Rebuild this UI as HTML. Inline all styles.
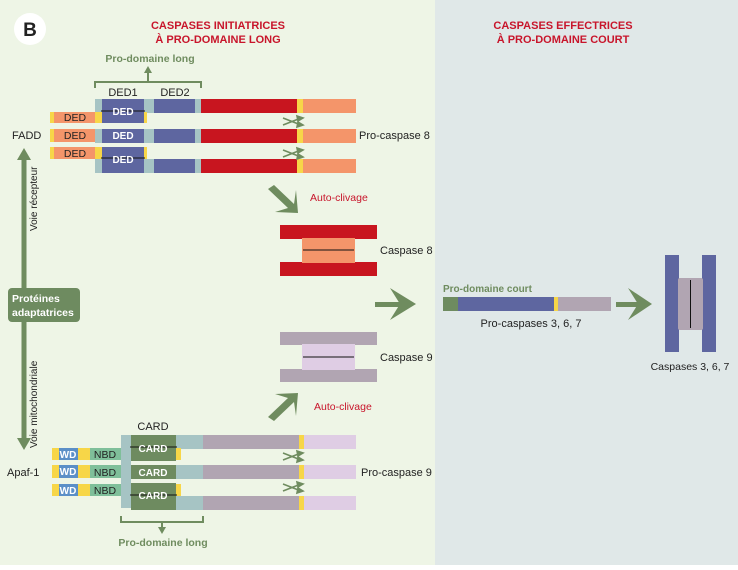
<!DOCTYPE html>
<html><head><meta charset="utf-8"><style>
html,body{margin:0;padding:0;}
body{width:738px;height:565px;overflow:hidden;font-family:"Liberation Sans",sans-serif;}
text{font-family:"Liberation Sans",sans-serif;}
</style></head><body>
<svg width="738" height="565" viewBox="0 0 738 565" xmlns="http://www.w3.org/2000/svg">
<defs>
<g id="scis" stroke="#6f8c5f" stroke-width="1.6" fill="#6f8c5f">
<line x1="0" y1="0" x2="18" y2="7"/><line x1="0" y1="7" x2="18" y2="0"/>
<polygon points="14,-2 20,0 15,3"/><polygon points="14,9 20,7 15,4"/>
</g>
</defs>
<rect x="0" y="0" width="435" height="565" fill="#eef5e6"/>
<rect x="435" y="0" width="303" height="565" fill="#e0e8e8"/>
<circle cx="30" cy="29" r="16" fill="#fff"/>
<text x="30" y="36" font-size="19" font-weight="bold" text-anchor="middle" fill="#222">B</text>
<g fill="#c8152b" font-size="11" font-weight="bold" text-anchor="middle">
<text x="218" y="29">CASPASES INITIATRICES</text><text x="218" y="43">À PRO-DOMAINE LONG</text>
<text x="563" y="29">CASPASES EFFECTRICES</text><text x="563" y="43">À PRO-DOMAINE COURT</text>
</g>
<text x="150" y="62" font-size="10.5" font-weight="bold" fill="#6f8c5f" text-anchor="middle">Pro-domaine long</text>
<path d="M95,88 V82 H201 V88 M148,82 V72" stroke="#6f8c5f" stroke-width="2" fill="none"/>
<polygon points="144,73 148,66 152,73" fill="#6f8c5f"/>
<g font-size="11" fill="#222" text-anchor="middle"><text x="123" y="96">DED1</text><text x="175" y="96">DED2</text></g>
<g id="full8">
<rect x="95" y="99" width="7" height="14" fill="#a6c4c4"/><rect x="102" y="99" width="42" height="14" fill="#5e66a0"/>
<rect x="144" y="99" width="10" height="14" fill="#a6c4c4"/><rect x="154" y="99" width="41" height="14" fill="#5e66a0"/>
<rect x="195" y="99" width="6" height="14" fill="#a6c4c4"/><rect x="201" y="99" width="96" height="14" fill="#c8151f"/>
<rect x="297" y="99" width="6" height="14" fill="#f7d648"/><rect x="303" y="99" width="53" height="14" fill="#f4956a"/>
</g>
<rect x="50" y="112" width="4" height="11" fill="#f7d648"/><rect x="54" y="112" width="41" height="11" fill="#f4956a"/><rect x="95" y="112" width="7" height="11" fill="#f7d648"/>
<rect x="102" y="112" width="42" height="11" fill="#5e66a0"/><rect x="144" y="112" width="3" height="11" fill="#f7d648"/>
<line x1="101" y1="111" x2="145" y2="111" stroke="#111" stroke-width="1"/>
<use href="#full8" y="30"/>
<rect x="50" y="129" width="4" height="13" fill="#f7d648"/><rect x="54" y="129" width="41" height="13" fill="#f4956a"/>
<use href="#full8" y="60"/>
<rect x="50" y="147" width="4" height="12" fill="#f7d648"/><rect x="54" y="147" width="41" height="12" fill="#f4956a"/><rect x="95" y="147" width="7" height="12" fill="#f7d648"/>
<rect x="102" y="147" width="42" height="12" fill="#5e66a0"/><rect x="144" y="147" width="3" height="12" fill="#f7d648"/>
<line x1="101" y1="158" x2="145" y2="158" stroke="#111" stroke-width="1"/>
<g font-size="10.5" fill="#222" text-anchor="middle"><text x="75" y="121">DED</text><text x="75" y="139">DED</text><text x="75" y="157">DED</text></g>
<g font-size="10" font-weight="bold" fill="#fff" text-anchor="middle"><text x="123" y="115">DED</text><text x="123" y="139">DED</text><text x="123" y="163">DED</text></g>
<use href="#scis" x="283" y="118"/><use href="#scis" x="283" y="150"/>
<text x="12" y="139" font-size="11" fill="#222">FADD</text>
<text x="359" y="139" font-size="11" fill="#222">Pro-caspase 8</text>
<rect x="121" y="435" width="10" height="73" fill="#a6c4c4"/>
<g id="full9">
<rect x="131" y="435" width="45" height="14" fill="#6e8b60"/><rect x="176" y="435" width="27" height="14" fill="#a6c4c4"/>
<rect x="203" y="435" width="96" height="14" fill="#b1a5b2"/><rect x="299" y="435" width="5" height="14" fill="#f7d648"/>
<rect x="304" y="435" width="52" height="14" fill="#dfcde4"/>
</g>
<rect x="131" y="448" width="45" height="13" fill="#6e8b60"/><rect x="176" y="448" width="5" height="12" fill="#f7d648"/>
<line x1="130" y1="447" x2="177" y2="447" stroke="#111" stroke-width="1"/>
<use href="#full9" y="30"/>
<use href="#full9" y="61"/>
<rect x="131" y="483" width="45" height="14" fill="#6e8b60"/><rect x="176" y="484" width="5" height="12" fill="#f7d648"/>
<line x1="130" y1="495" x2="177" y2="495" stroke="#111" stroke-width="1"/>
<g id="apaf">
<rect x="52" y="448" width="7" height="12" fill="#f7d648"/><rect x="59" y="448" width="19" height="12" fill="#5b8fc7"/>
<rect x="78" y="448" width="12" height="12" fill="#f7d648"/><rect x="90" y="448" width="31" height="12" fill="#7fbf9a"/>
</g>
<use href="#apaf" y="17"/><use href="#apaf" y="36"/>
<rect x="52" y="465" width="7" height="13" fill="#f7d648"/><rect x="59" y="465" width="19" height="13" fill="#5b8fc7"/><rect x="78" y="465" width="12" height="13" fill="#f7d648"/><rect x="90" y="465" width="31" height="13" fill="#7fbf9a"/>
<g font-size="10" font-weight="bold" fill="#fff" text-anchor="middle"><text x="68" y="458">WD</text><text x="68" y="475">WD</text><text x="68" y="494">WD</text>
<text x="153" y="452">CARD</text><text x="153" y="476">CARD</text><text x="153" y="499">CARD</text></g>
<g font-size="10.5" fill="#222" text-anchor="middle"><text x="105" y="458">NBD</text><text x="105" y="476">NBD</text><text x="105" y="494">NBD</text></g>
<text x="153" y="430" font-size="11" fill="#222" text-anchor="middle">CARD</text>
<use href="#scis" x="283" y="453"/><use href="#scis" x="283" y="484"/>
<text x="7" y="476" font-size="11" fill="#222">Apaf-1</text>
<text x="361" y="476" font-size="11" fill="#222">Pro-caspase 9</text>
<path d="M121,516 V522 H203 V516 M162,522 V528" stroke="#6f8c5f" stroke-width="2" fill="none"/>
<polygon points="158,527 162,534 166,527" fill="#6f8c5f"/>
<text x="163" y="546" font-size="10.5" font-weight="bold" fill="#6f8c5f" text-anchor="middle">Pro-domaine long</text>
<rect x="21.5" y="158" width="5" height="282" fill="#6f8c5f"/>
<polygon points="17,160 24,148 31,160" fill="#6f8c5f"/>
<polygon points="17,438 24,450 31,438" fill="#6f8c5f"/>
<rect x="8" y="288" width="72" height="34" rx="4" fill="#6e8b60"/>
<text x="12" y="302" font-size="10.5" font-weight="bold" fill="#fff">Protéines</text>
<text x="12" y="316" font-size="10.5" font-weight="bold" fill="#fff">adaptatrices</text>
<text transform="translate(37,231) rotate(-90)" font-size="10" fill="#222">Voie récepteur</text>
<text transform="translate(37,448) rotate(-90)" font-size="10" fill="#222">Voie mitochondriale</text>
<g fill="#6f8c5f">
<polygon points="268,189 274,185 294,204 296,190 298,213 275,212 288,208"/>
<polygon points="268,417 274,421 294,402 296,416 298,393 275,394 288,398"/>
</g>
<text x="310" y="201" font-size="10.5" fill="#c8152b">Auto-clivage</text>
<text x="314" y="410" font-size="10.5" fill="#c8152b">Auto-clivage</text>
<rect x="280" y="225" width="97" height="14" fill="#c8151f"/><rect x="280" y="262" width="97" height="14" fill="#c8151f"/>
<rect x="302" y="238" width="53" height="25" fill="#f4956a"/><line x1="303" y1="250" x2="354" y2="250" stroke="#111" stroke-width="1"/>
<text x="380" y="254" font-size="11" fill="#222">Caspase 8</text>
<rect x="280" y="332" width="97" height="13" fill="#b1a5b2"/><rect x="280" y="369" width="97" height="13" fill="#b1a5b2"/>
<rect x="302" y="344" width="53" height="26" fill="#dfcde4"/><line x1="303" y1="357" x2="354" y2="357" stroke="#111" stroke-width="1"/>
<text x="380" y="361" font-size="11" fill="#222">Caspase 9</text>
<g fill="#6f8c5f">
<rect x="375" y="302" width="30" height="5"/><polygon points="390,288 416,304 390,320 400,304"/>
<rect x="616" y="302" width="26" height="5"/><polygon points="628,288 652,304 628,320 638,304"/>
</g>
<text x="443" y="292" font-size="10" font-weight="bold" fill="#6f8c5f">Pro-domaine court</text>
<rect x="443" y="297" width="15" height="14" fill="#6e8b60"/><rect x="458" y="297" width="96" height="14" fill="#5e66a0"/>
<rect x="554" y="297" width="4" height="14" fill="#f7d648"/><rect x="558" y="297" width="53" height="14" fill="#b1a5b2"/>
<text x="531" y="327" font-size="11" fill="#222" text-anchor="middle">Pro-caspases 3, 6, 7</text>
<rect x="665" y="255" width="14" height="97" fill="#5e66a0"/><rect x="702" y="255" width="14" height="97" fill="#5e66a0"/>
<rect x="678" y="278" width="25" height="52" rx="2" fill="#b1a5b2"/><line x1="690.5" y1="280" x2="690.5" y2="328" stroke="#111" stroke-width="1"/>
<text x="690" y="370" font-size="10.5" fill="#222" text-anchor="middle">Caspases 3, 6, 7</text>
</svg>
</body></html>
